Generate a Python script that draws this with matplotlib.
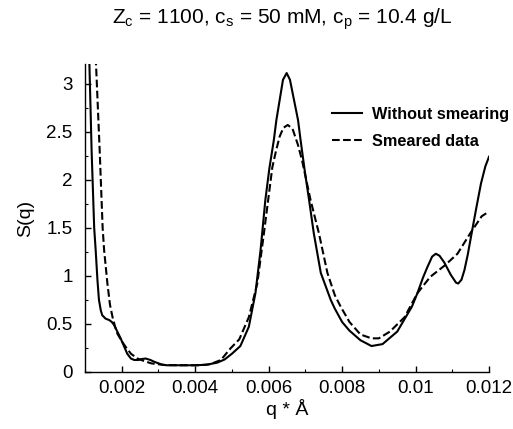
import matplotlib
matplotlib.use('Agg')
import matplotlib.pyplot as plt
from matplotlib.ticker import MultipleLocator

plt.rcParams['font.family'] = ['Liberation Sans', 'DejaVu Sans']

# S(q) without smearing (solid line)
q_raw = [0.00108, 0.00112, 0.00118, 0.00125, 0.00129, 0.00134, 0.00138, 0.00143,
         0.00147, 0.00156, 0.00166, 0.00173, 0.00179, 0.00188, 0.00197, 0.00206,
         0.00215, 0.00225, 0.00234, 0.00245, 0.00255, 0.00265, 0.00278, 0.00288,
         0.0030, 0.00311, 0.00323, 0.0035, 0.0040, 0.0043, 0.0046, 0.0048,
         0.0050, 0.00523, 0.00546, 0.00564, 0.00578, 0.00591, 0.00602, 0.00614,
         0.00621, 0.0063, 0.00639, 0.00649, 0.00658, 0.00669, 0.0068, 0.00687,
         0.00698, 0.0071, 0.00723, 0.00742, 0.00769, 0.0078, 0.0080, 0.0082,
         0.0085, 0.0088, 0.0091, 0.0095, 0.0099, 0.01005, 0.0102, 0.01032,
         0.01045, 0.01055, 0.01065, 0.01078, 0.01096, 0.0111, 0.01116, 0.01125,
         0.01133, 0.01142, 0.01151, 0.01165, 0.01178, 0.0119, 0.0120]
s_raw = [3.5, 3.2, 2.3, 1.5, 1.27, 0.95, 0.75, 0.64,
         0.59, 0.555, 0.54, 0.52, 0.49, 0.42, 0.35, 0.27,
         0.19, 0.14, 0.125, 0.125, 0.135, 0.14, 0.125, 0.107,
         0.09, 0.075, 0.07, 0.07, 0.07, 0.075, 0.097, 0.13,
         0.19, 0.27, 0.47, 0.82, 1.27, 1.79, 2.12, 2.41,
         2.62, 2.83, 3.04, 3.11, 3.04, 2.83, 2.62, 2.41,
         2.1, 1.79, 1.44, 1.03, 0.75, 0.66, 0.52, 0.43,
         0.33, 0.27, 0.29, 0.42, 0.68, 0.82, 0.98, 1.09,
         1.2, 1.23, 1.21, 1.14, 1.01, 0.93, 0.92, 0.96,
         1.06, 1.22, 1.41, 1.7, 1.96, 2.14, 2.24]

# smeared data (dashed line)
q_sm = [0.00126, 0.0013, 0.0014, 0.00148, 0.00152, 0.00161, 0.00168, 0.00175,
        0.00182, 0.00188, 0.0020, 0.00211, 0.00225, 0.00243, 0.0026, 0.0028,
        0.0030, 0.0032, 0.0036, 0.0041, 0.0044, 0.0047, 0.00496, 0.0052,
        0.00546, 0.00569, 0.00587, 0.0061, 0.0062, 0.0063, 0.0064, 0.00652,
        0.00665, 0.0068, 0.00691, 0.00714, 0.00737, 0.0076, 0.0078, 0.00796,
        0.0082, 0.0085, 0.0088, 0.0090, 0.0093, 0.0097, 0.01005, 0.0104,
        0.0108, 0.01114, 0.0115, 0.0118, 0.0120]
s_sm = [3.5, 3.2, 2.3, 1.5, 1.27, 0.92, 0.7, 0.57,
        0.47, 0.40, 0.32, 0.26, 0.19, 0.14, 0.115, 0.09,
        0.08, 0.072, 0.07, 0.07, 0.08, 0.125, 0.245, 0.34,
        0.57, 0.92, 1.44, 2.13, 2.3, 2.45, 2.54, 2.57,
        2.53, 2.36, 2.2, 1.79, 1.44, 1.03, 0.8, 0.68,
        0.52, 0.39, 0.35, 0.35, 0.42, 0.57, 0.82, 0.99,
        1.11, 1.23, 1.45, 1.62, 1.67]

fig = plt.figure(figsize=(5.13, 4.29), dpi=100)
ax = fig.add_axes([0.1657, 0.1329, 0.7876, 0.717])

ax.plot(q_raw, s_raw, 'k-', lw=1.5, label='Without smearing')
ax.plot(q_sm, s_sm, 'k--', lw=1.5, label='Smeared data')

ax.set_xlim(0.001, 0.012)
ax.set_ylim(0, 3.2)
ax.xaxis.set_minor_locator(MultipleLocator(0.001))
ax.yaxis.set_minor_locator(MultipleLocator(0.25))
ax.set_xticks([0.002, 0.004, 0.006, 0.008, 0.01, 0.012])
ax.set_xticklabels(['0.002', '0.004', '0.006', '0.008', '0.01', '0.012'])
ax.set_yticks([0, 0.5, 1, 1.5, 2, 2.5, 3])
ax.set_yticklabels(['0', '0.5', '1', '1.5', '2', '2.5', '3'])

ax.spines['top'].set_visible(False)
ax.spines['right'].set_visible(False)
for s in ['left', 'bottom']:
    ax.spines[s].set_linewidth(1.0)
ax.tick_params(which='major', direction='in', length=4, width=1.0, labelsize=13.5)
ax.tick_params(which='minor', direction='in', length=2.5, width=0.8)
ax.tick_params(axis='x', which='major', pad=6)
ax.tick_params(axis='y', which='major', pad=9)

ax.set_xlabel('q * Å', fontsize=14, labelpad=1)
ax.set_ylabel('S(q)', fontsize=14, labelpad=9)

fig.suptitle(r'Z$_{\mathregular{c}}$ = 1100, c$_{\mathregular{s}}$ = 50 mM, '
             r'c$_{\mathregular{p}}$ = 10.4 g/L', x=0.551, y=0.985, fontsize=15)

ax.legend(loc='center left', bbox_to_anchor=(0.611, 0.794), frameon=False,
          prop={'weight': 'bold', 'size': 11.7}, handlelength=1.85,
          handletextpad=0.6, labelspacing=0.75, borderpad=0, borderaxespad=0)

fig.savefig('out.png', dpi=100)
